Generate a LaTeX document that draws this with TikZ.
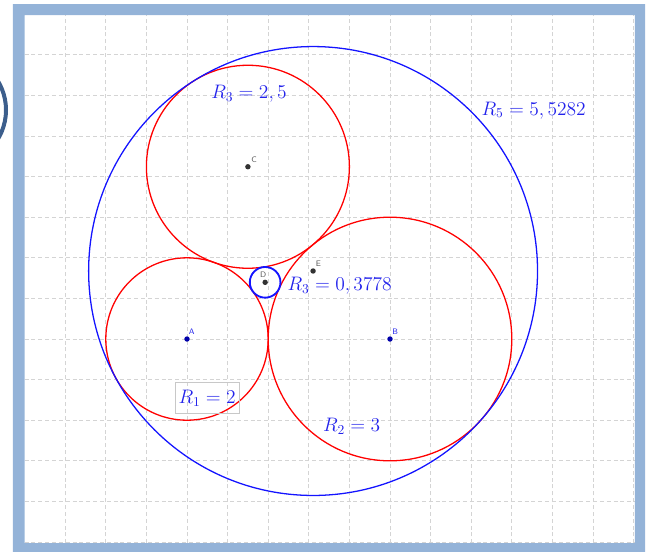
\documentclass[tikz,border=0pt]{standalone}
\newcommand{\rlab}[1]{\scalebox{0.95}{#1}}
\begin{document}
\begin{tikzpicture}
\definecolor{framecol}{RGB}{148,179,216}
\definecolor{gridcol}{RGB}{212,212,212}
\definecolor{redc}{RGB}{255,0,0}
\definecolor{bluec}{RGB}{20,20,255}
\definecolor{txtblue}{RGB}{35,35,235}
\definecolor{ptblue}{RGB}{0,0,170}
\definecolor{ptgray}{RGB}{50,50,50}
\definecolor{lblgray}{RGB}{90,90,90}
\definecolor{btncol}{RGB}{60,94,140}
\definecolor{boxgray}{RGB}{200,200,200}
\tikzset{
 gridline/.style={gridcol, line width=0.6pt, dash pattern=on 2.8pt off 2pt},
 redcirc/.style={redc, line width=0.9pt},
 bluecirc/.style={bluec, line width=0.9pt},
 rlabel/.style={txtblue, font=\fontsize{14.4}{16}\selectfont, inner sep=0pt, anchor=base},
 ptlabel/.style={font=\sffamily\fontsize{5.6}{6}\selectfont, inner sep=0pt, anchor=south west},
 ptdot/.style={circle, fill, inner sep=0pt, minimum size=3.8pt},
}
\useasboundingbox (-4.606,-5.222) rectangle (11.404,8.350);
\clip (-4.606,-5.222) rectangle (11.404,8.350);
% background button arc
\draw[btncol, line width=2.8pt] (-5.837,5.640) circle[radius=1.379];
% grid
\foreach \x in {-3,...,11} \draw[gridline] (\x,-5.03) -- (\x,7.98);
\foreach \y in {-5,...,7} \draw[gridline] (-4,\y) -- (11.03,\y);
% centers
\coordinate (A) at (0,0);
\coordinate (B) at (5,0);
\coordinate (C) at (1.5,4.2426);
\coordinate (D) at (1.9245,1.3964);
\coordinate (E) at (3.1055,1.6748);
% circles
\draw[redcirc] (A) circle[radius=2];
\draw[redcirc] (B) circle[radius=3];
\draw[redcirc] (C) circle[radius=2.5];
\draw[bluecirc] (E) circle[radius=5.5285];
\draw[bluec, line width=1.3pt] (D) circle[radius=0.3777];
% points
\node[ptdot, ptblue] (pA) at (A) {};
\node[ptdot, ptblue] (pB) at (B) {};
\node[ptdot, ptgray] (pC) at (C) {};
\node[ptdot, ptgray] (pD) at (D) {};
\node[ptdot, ptgray] (pE) at (E) {};
\node[ptlabel, txtblue] (lA) at ([shift={(0.04,0.1)}]A) {A};
\node[ptlabel, txtblue] (lB) at ([shift={(0.05,0.1)}]B) {B};
\node[ptlabel, lblgray] (lC) at ([shift={(0.08,0.105)}]C) {C};
\node[ptlabel, lblgray] (lD) at ([shift={(-0.13,0.1)}]D) {D};
\node[ptlabel, lblgray] (lE) at ([shift={(0.06,0.105)}]E) {E};
% radius labels
\draw[boxgray, line width=0.4pt] (-0.296,-1.830) rectangle (1.281,-1.076);
\node[rlabel] (r1) at (0.497,-1.584) {\rlab{$R_1 = 2$}};
\node[rlabel] (r2) at (4.056,-2.283) {\rlab{$R_2 = 3$}};
\node[rlabel] (r3) at (1.527,5.929) {\rlab{$R_3 = 2,5$}};
\node[rlabel] (r4) at (3.76,1.19) {\rlab{$R_3 = 0,3778$}};
\node[rlabel] (r5) at (8.54,5.517) {\rlab{$R_5 = 5,5282$}};
% frame
\fill[framecol, even odd rule] (-4.286,-5.4) rectangle (11.281,8.251) (-4.0,-5.03) rectangle (11.03,7.98);
\end{tikzpicture}
\end{document}
